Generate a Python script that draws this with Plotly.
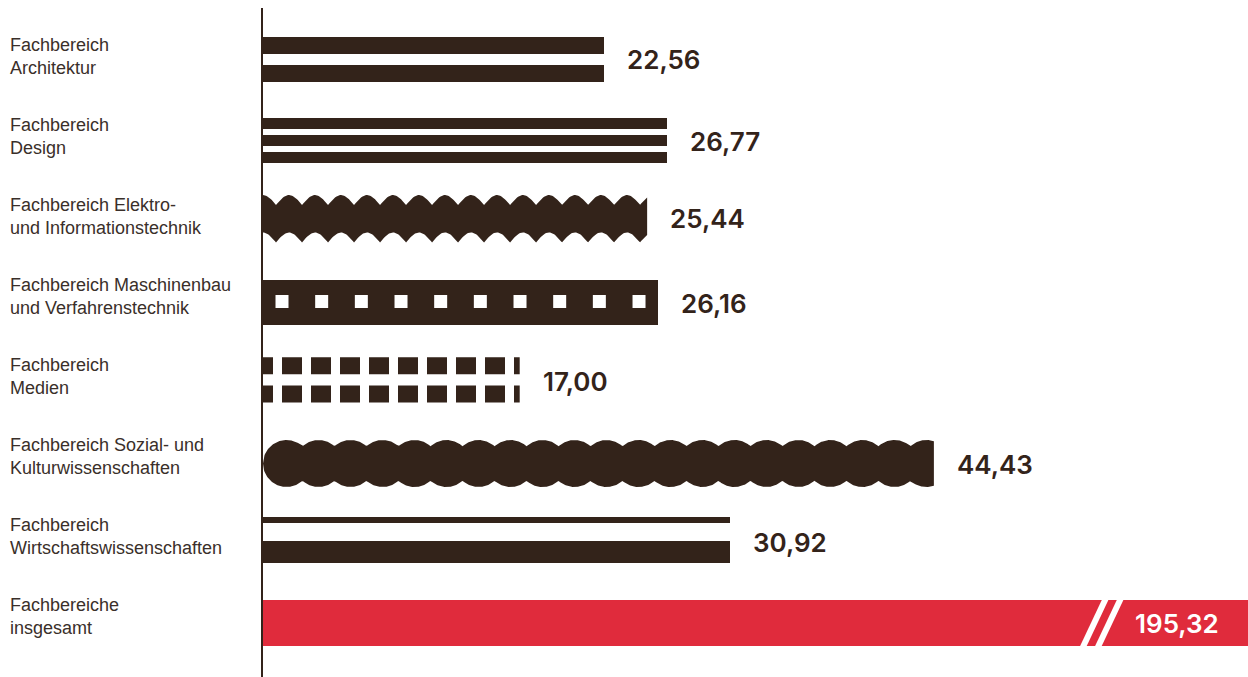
import numpy as np
import plotly.graph_objects as go

# ---------------- data ----------------
categories = [
    "Fachbereich<br>Architektur",
    "Fachbereich<br>Design",
    "Fachbereich Elektro-<br>und Informationstechnik",
    "Fachbereich Maschinenbau<br>und Verfahrenstechnik",
    "Fachbereich<br>Medien",
    "Fachbereich Sozial- und<br>Kulturwissenschaften",
    "Fachbereich<br>Wirtschaftswissenschaften",
    "Fachbereiche<br>insgesamt",
]
values = [22.56, 26.77, 25.44, 26.16, 17.00, 44.43, 30.92, 195.32]

# ---------------- style / layout ----------------
W, H = 1248, 677
ML, MR, MT, MB = 263, 0, 8, 0
PW, PH = W - ML - MR, H - MT - MB
PX_PER_X = 15.1                 # pixels per data unit along x
ROW0, ROW_STEP = 59.5, 80.5     # pixel centre of first row, spacing
X_MAX = PW / PX_PER_X
Y_TOP = (MT - ROW0) / ROW_STEP
Y_BOT = (H - MB - ROW0) / ROW_STEP

DARK = "#33231a"
RED = "#e02b3c"
LABEL_COLOR = "#3a2f2a"
NUM_FONT = dict(family="Inter", size=26, weight=600)


def dx(px):
    return px / PX_PER_X


def dy(px):
    return px / ROW_STEP


fig = go.Figure()


def stripe(row, value, top_px, bot_px, color=DARK):
    fig.add_trace(go.Bar(
        orientation="h", x=[value], y=[row], base=0,
        width=dy(bot_px - top_px), offset=dy(top_px),
        marker=dict(color=color, line=dict(width=0)),
        hoverinfo="skip", showlegend=False,
    ))


# 0 Architektur: two stripes
stripe(0, values[0], -22.5, -5.5)
stripe(0, values[0], 5.5, 22.5)

# 1 Design: three stripes
stripe(1, values[1], -22, -11)
stripe(1, values[1], -5, 6)
stripe(1, values[1], 12, 23)

# 2 Elektro: wavy band
L = values[2] * PX_PER_X
xs = np.linspace(0, L, int(L) + 1)
top = -15.5 - 10 * np.abs(np.sin(np.pi * (xs + 13) / 26.0))
bot = top + 37.5
px_x = np.concatenate([xs, xs[::-1]])
px_y = np.concatenate([top, bot[::-1]])
fig.add_trace(go.Scatter(
    x=dx(px_x), y=2 + dy(px_y), mode="lines", fill="toself",
    fillcolor=DARK, line=dict(width=0, color=DARK),
    hoverinfo="skip", showlegend=False,
))

# 3 Maschinenbau: solid bar with white squares
stripe(3, values[3], -21, 24)
L = values[3] * PX_PER_X
margin_sq, step_sq = 19.0, 38.8
n_sq = int((L - 2 * margin_sq) // step_sq) + 1
sq_step = (L - 2 * margin_sq) / (n_sq - 1)
sq_x = margin_sq + sq_step * np.arange(n_sq)
fig.add_trace(go.Scatter(
    x=dx(sq_x), y=[3 + dy(0.5)] * n_sq, mode="markers",
    marker=dict(symbol="square", size=13, color="white", line=dict(width=0)),
    hoverinfo="skip", showlegend=False, cliponaxis=True,
))

# 4 Medien: two dashed rows
L = values[4] * PX_PER_X
dash = [10]
tot = 10
while tot < L + 40:
    dash += [9, 20]
    tot += 29
dash_str = ",".join(f"{d}px" for d in dash)
for rel in (-15.7, 12.5):
    fig.add_trace(go.Scatter(
        x=[0, values[4]], y=[4 + dy(rel)] * 2, mode="lines",
        line=dict(width=17, color=DARK, dash=dash_str),
        hoverinfo="skip", showlegend=False,
    ))

# 5 Sozial: chain of circles
L = values[5] * PX_PER_X
r, sp = 23.5, 32.0
xs = np.linspace(0, L, int(L * 2) + 1)
k = np.clip(np.round((xs - r) / sp), 0, None)
d = np.abs(xs - (r + k * sp))
h = np.sqrt(np.clip(r * r - d * d, 0, None))
top = 1.5 - h
bot = 1.5 + h
px_x = np.concatenate([xs, xs[::-1]])
px_y = np.concatenate([top, bot[::-1]])
fig.add_trace(go.Scatter(
    x=dx(px_x), y=5 + dy(px_y), mode="lines", fill="toself",
    fillcolor=DARK, line=dict(width=0, color=DARK),
    hoverinfo="skip", showlegend=False,
))

# 6 Wirtschaft: thin + thick stripe
stripe(6, values[6], -25.5, -19.5)
stripe(6, values[6], -1.5, 20.5)

# 7 total: red bar (runs off the scale)
stripe(7, values[7], -23, 23, RED)

# ---------------- annotations ----------------
def fmt(v):
    return f"{v:.2f}".replace(".", ",")


annotations = []
num_yshift = [0, -1, 2.5, -2, 0, -2, 0]
for i in range(7):
    annotations.append(dict(
        x=values[i], y=i, xref="x", yref="y", text=fmt(values[i]),
        xanchor="left", yanchor="middle", xshift=21, yshift=num_yshift[i],
        showarrow=False,
        font=dict(NUM_FONT, color=DARK),
    ))
# total label inside red bar
annotations.append(dict(
    x=(1133 - ML) / PW, y=7, xref="paper", yref="y", text=fmt(values[7]),
    xanchor="left", yanchor="middle", showarrow=False,
    font=dict(NUM_FONT, color="white"),
))
# category labels
for i, lab in enumerate(categories):
    annotations.append(dict(
        x=(8 - ML) / PW, y=i, xref="paper", yref="y", text=lab,
        xanchor="left", yanchor="middle", align="left",
        yshift=3 + 0.43 * i, showarrow=False,
        font=dict(family="Arial", size=18, color=LABEL_COLOR),
    ))

# break marks on the red bar
def px_paper(px, py):
    return (px - ML) / PW, 1 - (py - MT) / PH


shapes = []
for (x0, y0, x1, y1) in [(1082, 649, 1106.5, 597), (1097, 649, 1121.5, 597)]:
    a = px_paper(x0, y0)
    b = px_paper(x1, y1)
    shapes.append(dict(type="line", xref="paper", yref="paper",
                       x0=a[0], y0=a[1], x1=b[0], y1=b[1],
                       line=dict(color="white", width=6)))

fig.update_layout(
    width=W, height=H,
    margin=dict(l=ML, r=MR, t=MT, b=MB, pad=0),
    paper_bgcolor="white", plot_bgcolor="white",
    barmode="overlay", bargap=0,
    showlegend=False,
    xaxis=dict(range=[0, X_MAX], visible=False, fixedrange=True),
    yaxis=dict(range=[Y_BOT, Y_TOP], showticklabels=False, showgrid=False,
               zeroline=False, ticks="", showline=True, linecolor=DARK,
               linewidth=2, fixedrange=True),
    annotations=annotations,
    shapes=shapes,
)

fig.write_html("out.html", config={"displayModeBar": False})
